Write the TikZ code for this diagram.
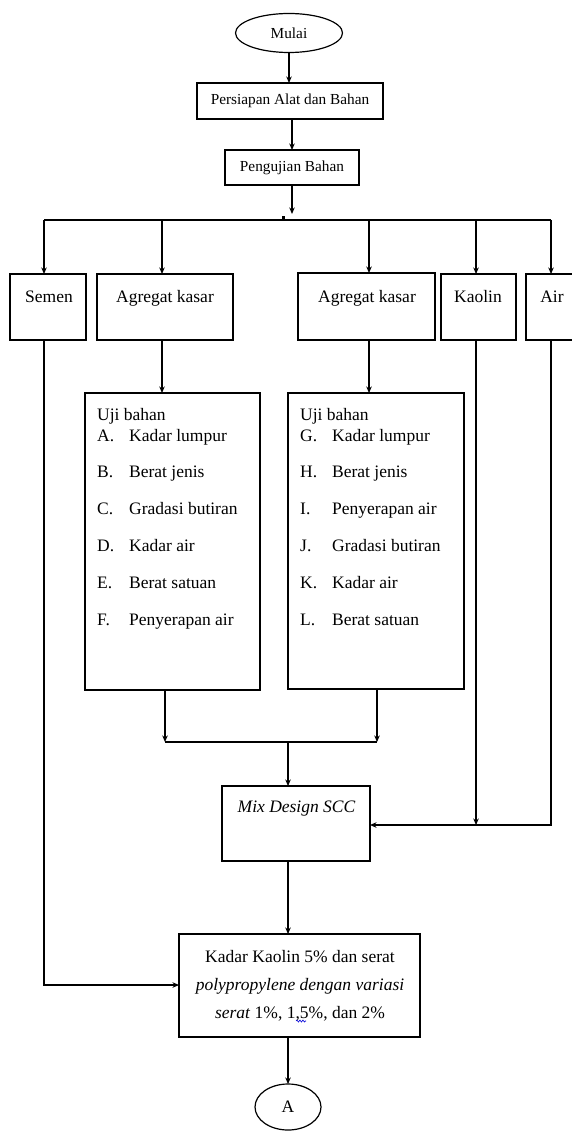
\documentclass[tikz,border=0pt]{standalone}
\usepackage{fontspec}
\setmainfont{Liberation Serif}
\usetikzlibrary{arrows.meta,shapes.geometric,decorations.pathmorphing}
\begin{document}
\begin{tikzpicture}[x=1pt,y=-1pt,
  bx/.style={draw, line width=1.2pt, inner sep=0pt, outer sep=0pt},
  el/.style={draw, ellipse, line width=1.2pt, inner sep=0pt, outer sep=0pt},
  arr/.style={line width=1.2pt, -{Stealth[length=6.5pt,width=5.5pt]}},
  ln/.style={line width=1.2pt},
  fs/.style={font=\fontsize{15.3}{18}\selectfont},
  fl/.style={font=\fontsize{17.5}{21}\selectfont},
  tx/.style={fl, inner sep=0pt, anchor=base west},
  tc/.style={fl, inner sep=0pt, anchor=base}]
\useasboundingbox (0,0) rectangle (572,1131);
\fill[white] (0,0) rectangle (572,1131);

% top chain
\node[el, fs, minimum width=107pt, minimum height=39pt] (mulai) at (289,33) {Mulai};
\node[bx, fs, minimum width=186pt, minimum height=36pt] (persiapan) at (290,101) {Persiapan Alat dan Bahan};
\node[bx, fs, minimum width=134pt, minimum height=35pt] (pengujian) at (292,167.5) {Pengujian Bahan};

% material boxes
\node[bx, minimum width=76pt, minimum height=66pt] (semen) at (48,307) {};
\node[bx, minimum width=136pt, minimum height=66pt] (ak1) at (165,307) {};
\node[bx, minimum width=137pt, minimum height=67pt] (ak2) at (366.5,306.5) {};
\node[bx, minimum width=75pt, minimum height=66pt] (kaolin) at (478.5,307) {};
\node[bx, minimum width=52pt, minimum height=66pt] (air) at (552,307) {};
\node[tc] (tsemen) at (49,302) {Semen};
\node[tc] (tak1) at (165,302) {Agregat kasar};
\node[tc] (tak2) at (367,302) {Agregat kasar};
\node[tc] (tkaolin) at (478,302) {Kaolin};
\node[tc] (tair) at (552,302) {Air};

% test boxes
\node[bx, minimum width=175pt, minimum height=297pt] (uji1) at (172.5,541.5) {};
\node[bx, minimum width=176pt, minimum height=296pt] (uji2) at (376,541) {};
\node[tx] (u1h) at (97,420) {Uji bahan};
\node[tx] (u1a) at (97,441) {A.};
\node[tx] (u1at) at (129,441) {Kadar lumpur};
\node[tx] (u1b) at (97,477.8) {B.};
\node[tx] (u1bt) at (129,477.8) {Berat jenis};
\node[tx] (u1c) at (97,514.6) {C.};
\node[tx] (u1ct) at (129,514.6) {Gradasi butiran};
\node[tx] (u1d) at (97,551.4) {D.};
\node[tx] (u1dt) at (129,551.4) {Kadar air};
\node[tx] (u1e) at (97,588.2) {E.};
\node[tx] (u1et) at (129,588.2) {Berat satuan};
\node[tx] (u1f) at (97,625) {F.};
\node[tx] (u1ft) at (129,625) {Penyerapan air};

\node[tx] (u2h) at (300,420) {Uji bahan};
\node[tx] (u2g) at (300,441) {G.};
\node[tx] (u2gt) at (332,441) {Kadar lumpur};
\node[tx] (u2h2) at (300,477.8) {H.};
\node[tx] (u2ht) at (332,477.8) {Berat jenis};
\node[tx] (u2i) at (300,514.6) {I.};
\node[tx] (u2it) at (332,514.6) {Penyerapan air};
\node[tx] (u2j) at (300,551.4) {J.};
\node[tx] (u2jt) at (332,551.4) {Gradasi butiran};
\node[tx] (u2k) at (300,588.2) {K.};
\node[tx] (u2kt) at (332,588.2) {Kadar air};
\node[tx] (u2l) at (300,625) {L.};
\node[tx] (u2lt) at (332,625) {Berat satuan};

% mix design
\node[bx, minimum width=148pt, minimum height=75pt] (mix) at (296,823.5) {};
\node[tc] (tmix) at (296.5,812) {\itshape Mix Design SCC};

% kadar box
\node[bx, minimum width=241pt, minimum height=103pt] (kadar) at (299.5,985.5) {};
\node[tc] (tk1) at (300,962) {Kadar Kaolin 5\% dan serat};
\node[tc] (tk2) at (300,990) {\itshape polypropylene dengan variasi};
\node[tc] (tk3) at (300,1018) {\textit{serat} 1\%, 1,5\%, dan 2\%};
\draw[blue!85!black, line width=0.6pt, decorate, decoration={snake, amplitude=1pt, segment length=3pt}] (296,1021) -- (306,1021);

% end connector
\node[el, fl, minimum width=66pt, minimum height=46pt] (A) at (288,1107) {A};

% coordinates
\coordinate (tip) at (292,214);
\coordinate (bL) at (44,220);
\coordinate (bR) at (551,220);
\coordinate (xa) at (162,0);
\coordinate (xb) at (369,0);
\coordinate (xc) at (476,0);
\coordinate (trunk) at (288,0);
\coordinate (mL) at (165,742);
\coordinate (mR) at (377,742);
\coordinate (aT) at (551,825);
\coordinate (sT) at (44,985);

% connectors
\draw[arr] (mulai.south) -- (mulai.south |- persiapan.north);
\draw[arr] (pengujian.north |- persiapan.south) -- (pengujian.north);
\draw[arr] (pengujian.south) -- (tip);
\draw[ln] (bL) -- (bR);
\fill (281.5,216.5) rectangle (284.5,219.5);
\draw[arr] (bL) -- (bL |- semen.north);
\draw[arr] (bL -| xa) -- (ak1.north -| xa);
\draw[arr] (bL -| xb) -- (ak2.north -| xb);
\draw[arr] (bL -| xc) -- (kaolin.north -| xc);
\draw[arr] (bR) -- (bR |- air.north);

\draw[arr] (ak1.south -| xa) -- (uji1.north -| xa);
\draw[arr] (ak2.south -| xb) -- (uji2.north -| xb);
\draw[arr] (uji1.south -| mL) -- (mL);
\draw[arr] (uji2.south -| mR) -- (mR);
\draw[ln] (mL) -- (mR);
\draw[arr] (mL -| trunk) -- (mix.north -| trunk);

\draw[arr] (kaolin.south -| xc) -- (aT -| xc);
\draw[arr] (air.south -| aT) -- (aT) -- (mix.east |- aT);

\draw[arr] (mix.south -| trunk) -- (kadar.north -| trunk);
\draw[arr] (semen.south -| sT) -- (sT) -- (kadar.west |- sT);
\draw[arr] (kadar.south -| trunk) -- (A.north -| trunk);
\end{tikzpicture}
\end{document}
